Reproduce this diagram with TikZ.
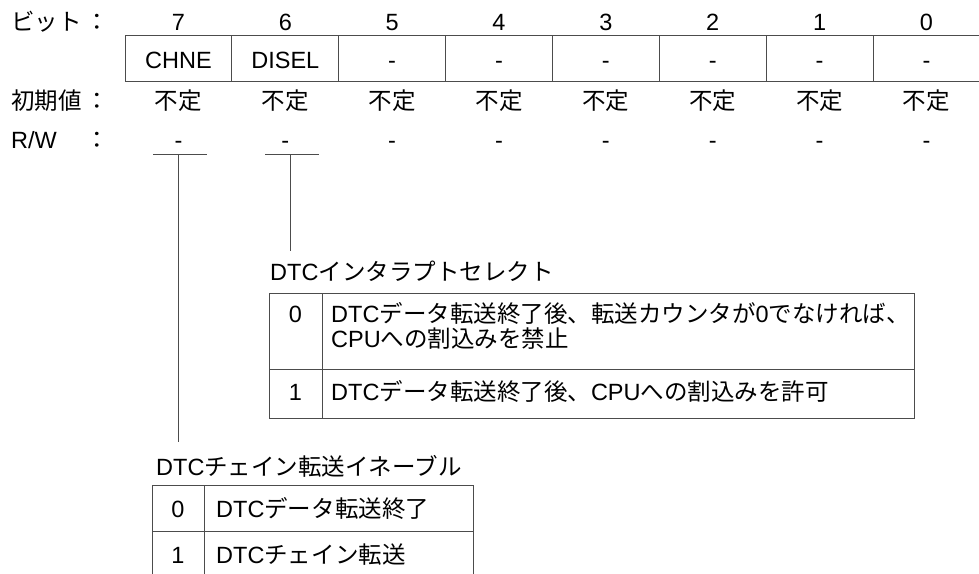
\documentclass[tikz,border=0pt]{standalone}
\usepackage{fontspec}
\setmainfont{Liberation Sans}
\newfontfamily\jp{Noto Sans CJK JP}
\usetikzlibrary{positioning}

\begin{document}
\begin{tikzpicture}[x=1pt,y=-1pt,
    font=\fontsize{23.5pt}{21.5pt}\selectfont,
    txt/.style={inner sep=0pt,anchor=base},
    txtl/.style={inner sep=0pt,anchor=base west},
    rule/.style={line width=1pt,black!70},
    cell/.style={draw=black!70,line width=1pt,inner sep=0pt,
        minimum width=106.86pt,minimum height=46pt,
        text height=20pt,text depth=0pt}]
    \useasboundingbox (0,0) rectangle (979,573);

    % Row labels
    \node[txtl] (lbit) at (11,30) {\jp ビット};
    \node[txtl] (linit) at (11,109) {\jp 初期値};
    \node[txtl] (lrw) at (11,148) {R/W};
    \node[txt] (cbit) at (97,30) {\jp ：};
    \node[txt] (cinit) at (97,109) {\jp ：};
    \node[txt] (crw) at (97,148) {\jp ：};

    % Register bits
    \foreach \b/\lbl [count=\i from 0] in {7/CHNE,6/DISEL,5/-,4/-,3/-,2/-,1/-,0/-} {
        \pgfmathsetmacro\cx{178.43+106.86*\i}
        \node[txt] (bit\b) at (\cx,30) {\b};
        \node[cell] (reg\b) at (\cx,58) {\lbl};
        \node[txt] (init\b) at (\cx,109) {\jp 不定};
        \node[txt] (rw\b) at (\cx,148) {-};
    }

    % Brackets under R/W
    \draw[rule] (153,154) -- (207,154);
    \draw[rule] (265,154) -- (319,154);
    \coordinate (t7) at (178,154);
    \coordinate (e7) at (178,442);
    \coordinate (t6) at (290,154);
    \coordinate (e6) at (290,251);
    \draw[rule] (t7) -- (e7);
    \draw[rule] (t6) -- (e6);

    % DISEL description
    \node[txtl] (disel) at (270,280) {DTC{\jp インタラプトセレクト}};
    \draw[rule] (269,293) rectangle (914,418);
    \draw[rule] (322,293) -- (322,418);
    \draw[rule] (269,369) -- (914,369);
    \node[txt] (dv0) at (295.5,322) {0};
    \node[txt] (dv1) at (295.5,400) {1};
    \node[txtl] (dt0) at (331,322) {DTC{\jp データ転送終了後、転送カウンタが}0{\jp でなければ、}};
    \node[txtl] (dt0b) at (331,347) {CPU{\jp への割込みを禁止}};
    \node[txtl] (dt1) at (331,400) {DTC{\jp データ転送終了後、}CPU{\jp への割込みを許可}};

    % CHNE description
    \node[txtl] (chne) at (156,475) {DTC{\jp チェイン転送イネーブル}};
    \draw[rule] (152,485) rectangle (473,590);
    \draw[rule] (204,485) -- (204,590);
    \draw[rule] (152,531) -- (473,531);
    \node[txt] (cv0) at (178,517) {0};
    \node[txt] (cv1) at (178,563) {1};
    \node[txtl] (ct0) at (216,517) {DTC{\jp データ転送終了}};
    \node[txtl] (ct1) at (216,563) {DTC{\jp チェイン転送}};
\end{tikzpicture}
\end{document}
